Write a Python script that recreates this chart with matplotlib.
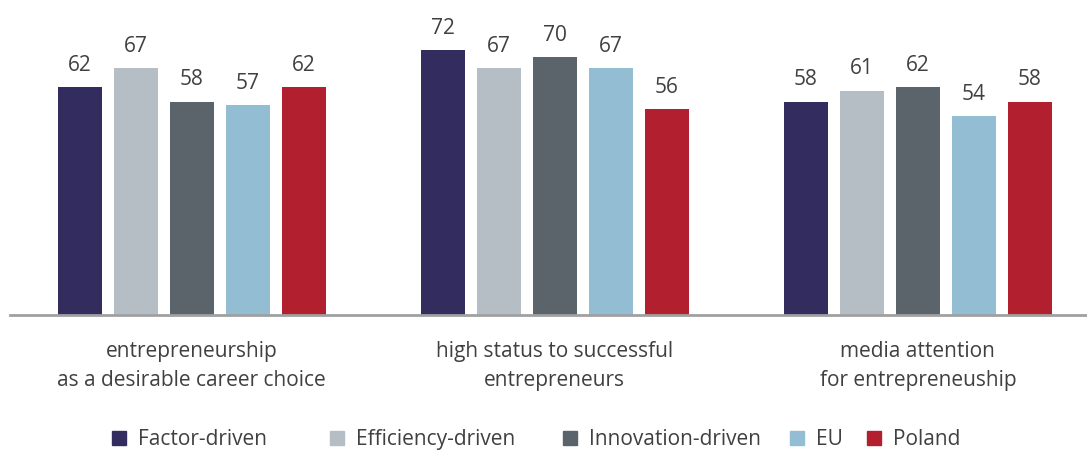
import matplotlib
matplotlib.use("Agg")
import matplotlib.pyplot as plt
from matplotlib.patches import Rectangle
import numpy as np

plt.rcParams['font.family'] = ['Open Sans', 'DejaVu Sans']

categories = ["entrepreneurship\nas a desirable career choice",
              "high status to successful\nentrepreneurs",
              "media attention\nfor entrepreneuship"]
series_names = ["Factor-driven", "Efficiency-driven", "Innovation-driven", "EU", "Poland"]
factor_driven = [62, 72, 58]
efficiency_driven = [67, 67, 61]
innovation_driven = [58, 70, 62]
eu = [57, 67, 54]
poland = [62, 56, 58]

values = [factor_driven, efficiency_driven, innovation_driven, eu, poland]
colors = ["#332c5f", "#b6bec5", "#5b636b", "#92bdd3", "#b21f2f"]
text_color = "#404040"
fs = 15

W, H = 1087, 451
fig = plt.figure(figsize=(W / 100, H / 100), dpi=100)
ax = fig.add_axes([10 / W, (H - 315) / H, 1077 / W, 85 * 3.68 / H])

x = np.arange(len(categories))
step = 0.154
width = 0.122
for i, (vals, col) in enumerate(zip(values, colors)):
    pos = x + (i - 2) * step
    bars = ax.bar(pos, vals, width=width, color=col, zorder=2)
    for b, v in zip(bars, vals):
        ax.annotate(f"{v}", (b.get_x() + b.get_width() / 2, v),
                    xytext=(0, 8), textcoords="offset points",
                    ha="center", va="bottom", fontsize=fs, color=text_color)

ax.set_xlim(-0.501, 2.466)
ax.set_ylim(0, 85)
ax.set_yticks([])
ax.set_xticks(x)
ax.set_xticklabels(categories, fontsize=fs, color=text_color, linespacing=1.45)
ax.tick_params(axis="x", length=0, pad=19)
for s in ["top", "right", "left"]:
    ax.spines[s].set_visible(False)
ax.spines["bottom"].set_color("#a0a0a0")
ax.spines["bottom"].set_linewidth(2)

# legend row, laid out by hand
legend_x = [112, 330, 563, 790, 867]
baseline_y = 445
sq = 14
for lx, name, col in zip(legend_x, series_names, colors):
    fig.patches.append(Rectangle((lx / W, (H - baseline_y) / H), sq / W, sq / H,
                                 transform=fig.transFigure, color=col))
    fig.text((lx + sq + 12) / W, (H - baseline_y) / H, name, fontsize=fs,
             color=text_color, va="baseline", ha="left")

fig.savefig("out.png", dpi=100)
